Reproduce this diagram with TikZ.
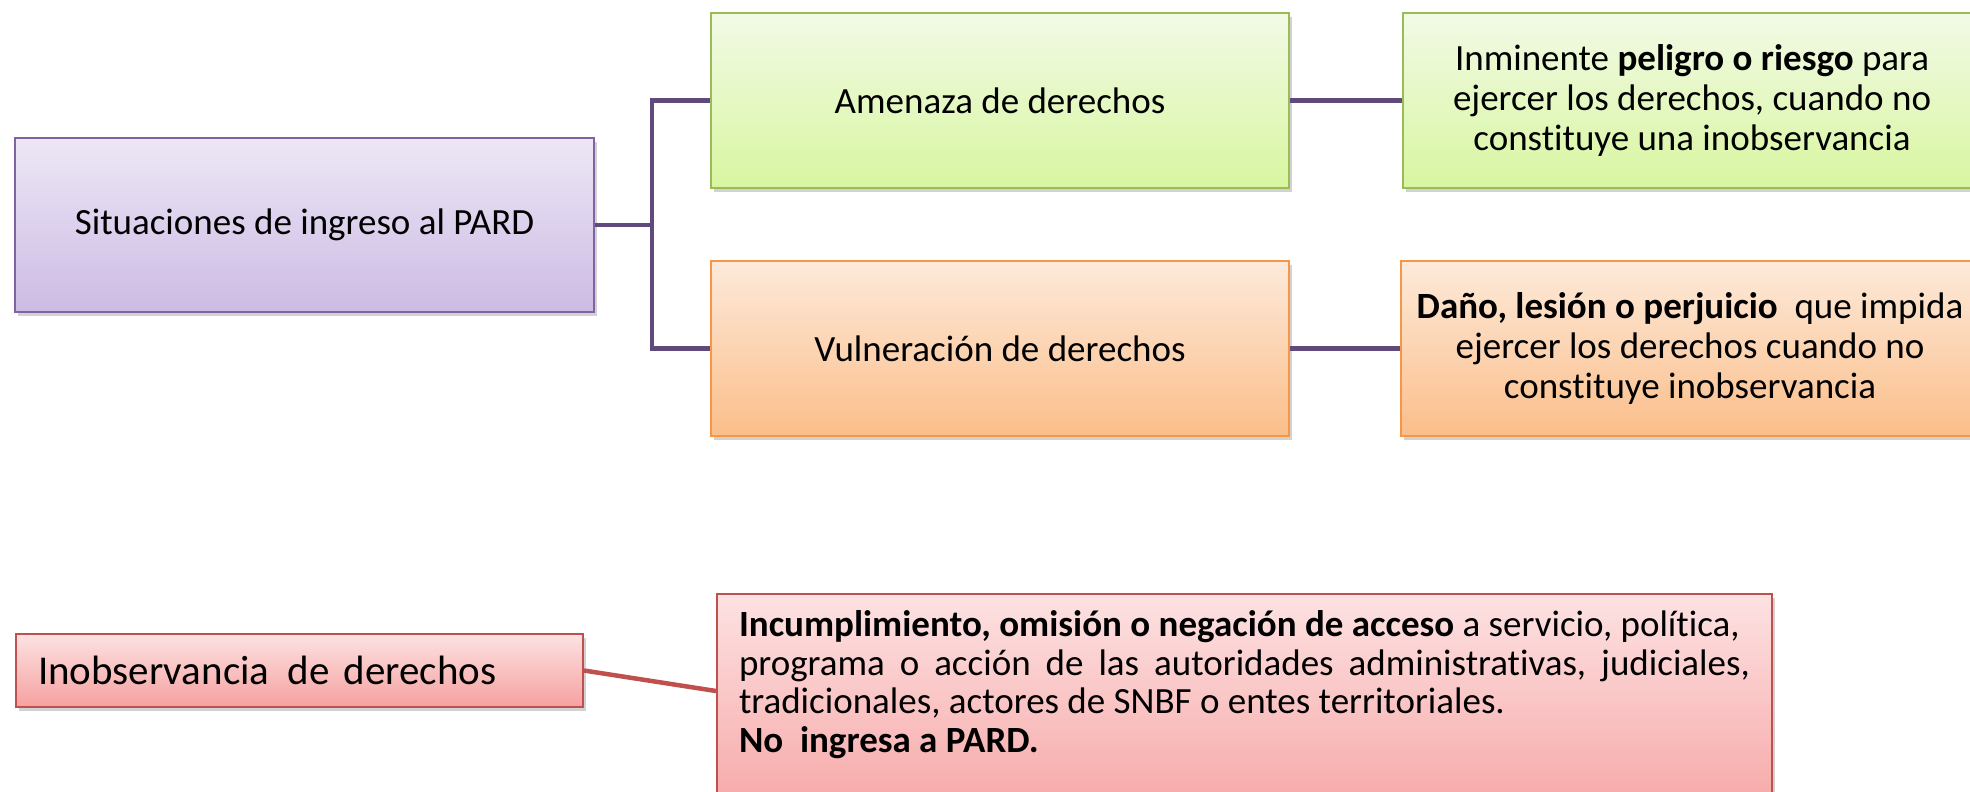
\documentclass[tikz,border=0pt]{standalone}
\usepackage{fontspec}
\setmainfont{Carlito}[Ligatures=NoCommon]
\usetikzlibrary{shadows}
\definecolor{purpB}{RGB}{128,100,162}
\definecolor{purpT}{RGB}{237,231,246}
\definecolor{purpBot}{RGB}{204,187,228}
\definecolor{greenB}{RGB}{155,187,89}
\definecolor{greenT}{RGB}{242,250,230}
\definecolor{greenBot}{RGB}{216,246,160}
\definecolor{orB}{RGB}{247,150,70}
\definecolor{orT}{RGB}{253,234,218}
\definecolor{orBot}{RGB}{251,190,138}
\definecolor{redB}{RGB}{192,80,77}
\definecolor{redT}{RGB}{253,226,226}
\definecolor{redBot}{RGB}{246,160,160}
\definecolor{connP}{RGB}{96,74,123}
\tikzset{
  box/.style={draw, line width=2pt, inner sep=0pt, align=center,
    drop shadow={opacity=0.35, shadow xshift=3pt, shadow yshift=-4pt},
    font=\fontsize{37}{40}\selectfont},
  purplebox/.style={box, draw=purpB, top color=purpT, bottom color=purpBot},
  greenbox/.style={box, draw=greenB, top color=greenT, bottom color=greenBot},
  orangebox/.style={box, draw=orB, top color=orT, bottom color=orBot},
  redbox/.style={box, draw=redB, top color=redT, bottom color=redBot},
  pconn/.style={draw=connP, line width=4.5pt},
  rconn/.style={draw=redB, line width=4.5pt}
}
\begin{document}
\begin{tikzpicture}[x=1pt,y=-1pt]
\useasboundingbox (0,0) rectangle (1970,792);
\clip (0,0) rectangle (1970,792);
\fill[white] (0,0) rectangle (1970,792);

\node[purplebox, minimum width=579pt, minimum height=174pt] (sit) at (304.5,225) {Situaciones de ingreso al PARD};

\node[greenbox, minimum width=578pt, minimum height=175pt] (ame) at (1000,100.5) {Amenaza de derechos};
\node[orangebox, minimum width=578pt, minimum height=175pt] (vul) at (1000,348.5) {Vulneración de derechos};

\node[greenbox, minimum width=578pt, minimum height=175pt] (inm) at (1692,100.5)
  {Inminente \textbf{peligro o riesgo} para\\ejercer los derechos, cuando no\\constituye una inobservancia};
\node[orangebox, minimum width=578pt, minimum height=175pt] (dan) at (1690,348.5)
  {\textbf{Daño, lesión o perjuicio}\ \ que impida\\ejercer los derechos cuando no\\constituye inobservancia};

\node[redbox, minimum height=73pt, text width=523pt, align=left, anchor=west, inner xsep=22pt,
  font=\fontsize{41}{46}\selectfont] (inob) at (15,670.5) {Inobservancia\hspace{0.12em} de derechos};

\node[redbox, anchor=north west, inner xsep=22pt, inner ysep=17pt, align=left] (inc) at (716,593)
  {\parbox[t][210pt][t]{1011pt}{\fontsize{37}{38.5}\selectfont\raggedright
  \textbf{Incumplimiento, omisión o negación de acceso} a servicio, política,\\
  \hbox to 1011pt{programa\hfill o\hfill acción\hfill de\hfill las\hfill autoridades\hfill administrativas,\hfill judiciales,}
  tradicionales, actores de SNBF o entes territoriales.\\
  \textbf{No\ \ ingresa a PARD.}}};

\coordinate (trunk) at (652,225);
\draw[pconn] (sit.east) -- (trunk);
\draw[pconn] (ame.west) -| (trunk |- vul.west) -- (vul.west);
\draw[pconn] (ame.east) -- (inm.west);
\draw[pconn] (vul.east) -- (dan.west);
\draw[rconn] (inob.east) -- ([yshift=-98pt]inc.north west);
\end{tikzpicture}
\end{document}
